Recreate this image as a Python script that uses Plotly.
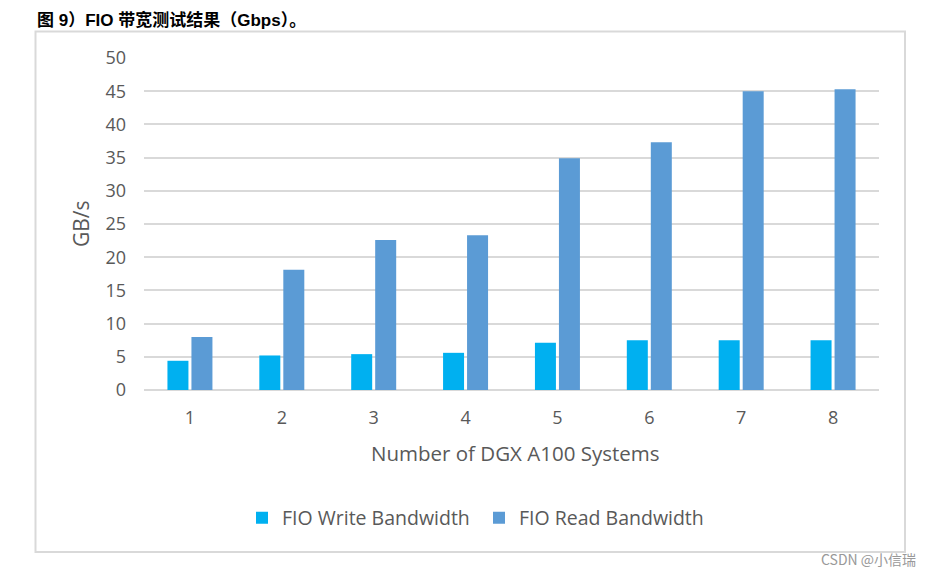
import plotly.graph_objects as go

categories = ["1", "2", "3", "4", "5", "6", "7", "8"]
write_bw = [4.4, 5.2, 5.4, 5.6, 7.1, 7.5, 7.5, 7.5]
read_bw = [8.0, 18.1, 22.6, 23.3, 34.9, 37.3, 45.0, 45.3]
y_ticks = [0, 5, 10, 15, 20, 25, 30, 35, 40, 45, 50]

FONT = "Open Sans, Noto Sans, sans-serif"
GRAY = "#595959"

# page body has an 8px margin; work in reference-pixel coordinates
OFF = 8
W, H = 935 - OFF, 575 - OFF
PL, PR, PT, PB = 144, 879, 58, 390  # plot area in reference pixels
L, R, T, B = PL - OFF, W - (PR - OFF), PT - OFF, H - (PB - OFF)
pw, ph = PR - PL, PB - PT


def px(x):
    return (x - PL) / pw


def py(y):
    return (PB - y) / ph


fig = go.Figure()
fig.add_bar(x=categories, y=write_bw, name="FIO Write Bandwidth",
            marker=dict(color="#00B0F0", line=dict(width=0)))
fig.add_bar(x=categories, y=read_bw, name="FIO Read Bandwidth",
            marker=dict(color="#5B9BD5", line=dict(width=0)))

fig.update_layout(
    width=W, height=H,
    margin=dict(l=L, r=R, t=T, b=B, autoexpand=False),
    paper_bgcolor="white", plot_bgcolor="white",
    barmode="group", bargap=0.4775, bargroupgap=0.125,
    font=dict(family=FONT, color=GRAY),
    showlegend=True,
    legend=dict(orientation="h", x=px(479), y=py(518), xanchor="center", yanchor="middle",
                font=dict(size=19.5, color=GRAY, family=FONT), itemwidth=30,
                traceorder="normal", entrywidthmode="pixels", entrywidth=192),
    xaxis=dict(type="category", showgrid=False, showline=False, zeroline=False,
               tickfont=dict(size=18, color=GRAY), ticklabelstandoff=15, range=[-0.5, 7.5]),
    yaxis=dict(range=[0, 50], tickvals=y_ticks, showgrid=True, gridcolor="#d9d9d9", gridwidth=1.8,
               zeroline=True, zerolinecolor="#d9d9d9", zerolinewidth=1.8, showline=False,
               tickfont=dict(size=18, color=GRAY), ticklabelstandoff=17),
    shapes=[dict(type="rect", xref="paper", yref="paper",
                 x0=px(35.5), x1=px(905), y0=py(552), y1=py(31.5),
                 line=dict(color="#d9d9d9", width=2), fillcolor="rgba(0,0,0,0)", layer="below")],
    annotations=[
        dict(text="图 9）FIO 带宽测试结果（Gbps）。", xref="paper", yref="paper",
             x=px(35), y=py(8.5), xanchor="left", yanchor="top", showarrow=False,
             font=dict(family="Liberation Sans, Noto Sans CJK SC, sans-serif", size=17, color="black",
                       weight="bold")),
        dict(text="GB/s", xref="paper", yref="paper", x=px(81), y=py(224), textangle=-90,
             xanchor="center", yanchor="middle", showarrow=False,
             font=dict(size=21, color=GRAY, family=FONT)),
        dict(text="Number of DGX A100 Systems", xref="paper", yref="paper", x=px(515), y=py(453),
             xanchor="center", yanchor="middle", showarrow=False,
             font=dict(size=20.5, color=GRAY, family=FONT)),
        dict(text="CSDN @小信瑞", xref="paper", yref="paper", x=px(918), y=py(559),
             xanchor="right", yanchor="middle", showarrow=False,
             font=dict(size=14, color="#999999", family="Noto Sans CJK SC, sans-serif")),
    ],
)

fig.write_html("out.html")
